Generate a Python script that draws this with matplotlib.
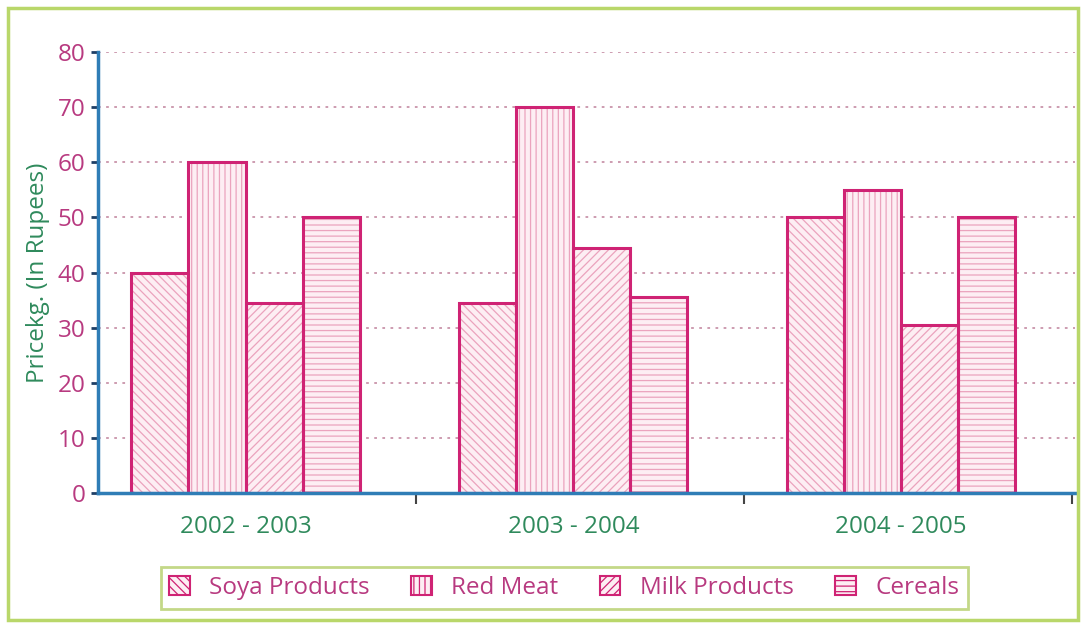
import matplotlib
matplotlib.use("Agg")
import matplotlib.pyplot as plt
import numpy as np
from matplotlib.patches import Patch, Rectangle

plt.rcParams['font.family'] = ['Open Sans', 'DejaVu Sans']

periods = ["2002 - 2003", "2003 - 2004", "2004 - 2005"]
series = ["Soya Products", "Red Meat", "Milk Products", "Cereals"]
soya = [40, 34.5, 50]
red_meat = [60, 70, 55]
milk = [34.5, 44.5, 30.5]
cereals = [50, 35.5, 50]
values = [soya, red_meat, milk, cereals]
hatches = ["\\\\\\\\", "|||", "////", "---"]
yticks = list(range(0, 81, 10))

EDGE = "#cf2374"
FILL = "#fdeef3"
HATCH = "#eba3bd"
PINK_TXT = "#b83a80"
GREEN_TXT = "#2f8a5c"
BLUE = "#2f7db6"
GRID = "#c994aa"
FS = 17.5

plt.rcParams['hatch.linewidth'] = 0.9

fig = plt.figure(figsize=(10.83, 6.24), dpi=100)
ax = fig.add_axes([98/1083, 1-493/624, (1075-98)/1083, (493-52)/624])

x = np.arange(len(periods))
w = 0.174
for i, (vals, h) in enumerate(zip(values, hatches)):
    pos = x + (i - 1.5) * w
    ax.bar(pos, vals, width=w, color=FILL, edgecolor=HATCH, hatch=h, linewidth=0, zorder=3)
    ax.bar(pos, vals, width=w, fill=False, edgecolor=EDGE, linewidth=2.2, zorder=4)

ax.set_xlim(-0.45, 2.53)
ax.set_ylim(0, 80)
ax.set_yticks(yticks)
ax.set_yticklabels([str(t) for t in yticks], color=PINK_TXT, fontsize=FS)
ax.tick_params(axis='y', direction='out', length=5, width=2, color="#1f3f66", pad=4)

ax.set_xticks(x)
ax.set_xticklabels(periods, color=GREEN_TXT, fontsize=FS)
ax.tick_params(axis='x', which='major', length=0, pad=16)
ax.set_xticks(x + 0.52, minor=True)
ax.tick_params(axis='x', which='minor', direction='out', length=8, width=1.5, color="#444444")

for s in ['top', 'right']:
    ax.spines[s].set_visible(False)
ax.spines['left'].set_color(BLUE)
ax.spines['left'].set_linewidth(2.5)
ax.spines['bottom'].set_color(BLUE)
ax.spines['bottom'].set_linewidth(2.5)
ax.spines['left'].set_zorder(5)
ax.spines['bottom'].set_zorder(5)

ax.yaxis.grid(True, linestyle=(0, (1.5, 3)), color=GRID, linewidth=1.3, zorder=1)
ax.set_axisbelow(True)

ax.set_ylabel("Pricekg. (In Rupees)", color=GREEN_TXT, fontsize=FS)
ax.yaxis.set_label_coords(-0.049, 0.5)

handles = [Patch(facecolor=FILL, edgecolor=EDGE, hatch=h, linewidth=1.5) for h in hatches]
leg = fig.legend(handles, series, loc='center', bbox_to_anchor=(0.521, 1-588/624), ncol=4,
                 fontsize=FS, frameon=True, fancybox=False, handlelength=0.85, handleheight=0.85,
                 columnspacing=1.7, handletextpad=0.8, borderpad=0.35, borderaxespad=0)
leg.get_frame().set_edgecolor("#b5cf6a")
leg.get_frame().set_linewidth(2)
for t in leg.get_texts():
    t.set_color(PINK_TXT)

fig.patches.append(Rectangle((8/1083, 4/624), 1070/1083, 612/624, transform=fig.transFigure,
                             fill=False, edgecolor="#b9d76a", linewidth=2.5))

fig.savefig("out.png", dpi=100)
